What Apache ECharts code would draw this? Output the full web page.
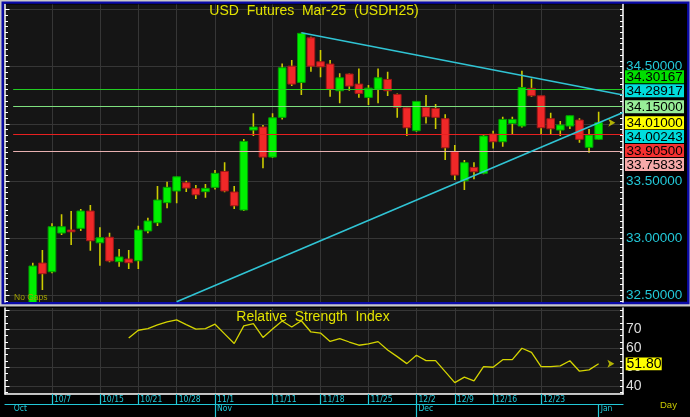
<!DOCTYPE html>
<html><head><meta charset="utf-8">
<script src="https://cdn.jsdelivr.net/npm/echarts@6/dist/echarts.min.js"></script>
<style>html,body{margin:0;padding:0;background:#c8c8c8}#c{width:690px;height:417px}</style>
</head><body><div id="c"></div><script>
// ---- data ----
const DATES = ['10/3','10/4','10/7','10/8','10/9','10/10','10/11','10/15','10/16','10/17',
 '10/18','10/21','10/22','10/23','10/24','10/28','10/29','10/30','10/31','11/1',
 '11/4','11/5','11/6','11/7','11/8','11/11','11/12','11/13','11/14','11/15',
 '11/18','11/19','11/20','11/21','11/22','11/25','11/26','11/27','11/28','11/29',
 '12/2','12/3','12/4','12/5','12/9','12/10','12/11','12/12','12/16','12/17',
 '12/18','12/19','12/20','12/23','12/24','12/26','12/27','12/30','12/31','1/2'];
const OPEN  = [32.43,32.785,32.709,33.047,33.073,33.088,33.239,32.962,33.01,32.797,
 32.82,32.805,33.065,33.137,33.312,33.414,33.486,33.434,33.408,33.446,
 33.585,33.405,33.248,33.946,33.972,33.71,34.057,34.504,34.362,34.751,
 34.542,34.522,34.289,34.435,34.347,34.231,34.301,34.388,34.257,34.14,
 33.94,34.144,34.135,34.045,33.757,33.503,33.62,33.568,33.911,33.844,
 34.004,33.981,34.31,34.245,34.045,33.946,33.981,34.033,33.795,33.865];
const CLOSE = [32.759,32.692,33.102,33.102,33.058,33.239,32.98,33.006,32.803,32.838,
 32.788,33.073,33.152,33.335,33.446,33.538,33.44,33.381,33.437,33.568,
 33.414,33.285,33.847,33.972,33.71,34.053,34.49,34.347,34.79,34.504,
 34.498,34.301,34.402,34.33,34.266,34.312,34.402,34.289,34.144,33.966,
 34.196,34.062,34.057,33.791,33.553,33.661,33.582,33.894,33.844,34.039,
 34.039,34.318,34.245,33.966,33.957,33.99,34.071,33.865,33.902,34.01];
const LOW   = [32.40,32.55,32.695,33.03,32.942,33.065,32.893,32.762,32.791,32.753,
 32.733,32.733,33.045,33.108,33.263,33.306,33.405,33.344,33.355,33.428,
 33.402,33.257,33.239,33.894,33.612,33.702,34.039,34.33,34.251,34.455,
 34.406,34.236,34.179,34.289,34.228,34.164,34.179,34.243,34.053,33.894,
 33.931,34.004,33.955,33.684,33.51,33.422,33.516,33.56,33.786,33.8,
 33.911,33.969,34.236,33.911,33.911,33.894,33.955,33.835,33.748,33.859];
const HIGH  = [32.788,32.899,33.132,33.21,33.239,33.257,33.291,33.097,33.05,32.907,
 32.899,33.111,33.181,33.457,33.495,33.54,33.503,33.466,33.475,33.597,
 33.664,33.457,33.867,34.092,33.99,34.092,34.528,34.557,34.795,34.76,
 34.644,34.557,34.441,34.44,34.484,34.339,34.484,34.455,34.266,34.14,
 34.2,34.251,34.173,34.083,33.815,33.684,33.664,33.902,33.94,34.062,
 34.062,34.463,34.397,34.245,34.097,34.024,34.071,34.048,33.955,34.106];
const RSI = [null,null,null,null,null,null,null,null,null,null,
 65.4,69.5,70.4,72.3,73.9,75.0,72.5,70.1,70.4,72.7,
 67.6,62.5,71.8,73.0,65.7,70.1,74.4,71.2,74.5,68.6,
 68.0,63.6,65.1,63.3,61.6,62.3,63.5,59.1,55.6,51.9,
 56.3,53.5,53.5,47.7,41.9,44.8,42.8,50.3,50.0,54.0,
 54.0,60.0,57.8,50.3,50.3,50.7,53.4,47.9,48.6,51.8];
const TICK_IDX = [2,7,11,15,19,25,30,35,40,44,48,53];
const MONTHS = ['Oct','Nov','Dec','Jan'];
const MONTH_IDX = [-2.2,19,40,59];
const MONTH_TICK_IDX = [19,40,59];
const PRICE_TICKS = [32.5,33,33.5,34,34.5];
const PRICE_GRID = [32.5,33,33.5,34,34.5,35];
const RSI_TICKS = [40,50,60,70];
const RSI_GRID = [40,50,60,70,80];
const LEVELS = [34.30167,34.15,33.905,33.75833];
const TREND_UP = [[28,34.795],[61.54,34.252]];
const TREND_LO = [[15,32.448],[61.54,34.10]];
const BOX_VALUES = [34.30167,34.28917,34.15,34.01,34.00243,33.905,33.75833];
const BOX_ANCHOR = 3;
const LAST_RSI = 51.80;
const TITLE = 'USD  Futures  Mar-25  (USDH25)';
const RSI_TITLE = 'Relative  Strength  Index';

// ---- style ----
const FONT = '"Liberation Sans", Arial, sans-serif';
const NARROW = '"Liberation Sans Narrow", "Arial Narrow", "DejaVu Sans Condensed", "Liberation Sans", sans-serif';
const CYAN = '#22c8d8';
const YELLOW = '#e2e200';
const GRIDC = '#363636';
const LEVEL_COLORS = ['#22cc22','#7ee07e','#e82020','#e8b0b0'];
const BOX_COLORS = ['#00e000','#00dcdc','#98ee98','#ffff00','#00dcdc','#f43030','#f6aaaa'];
const X_MIN = -2.899, X_MAX = 61.54;
const Y_MIN = 32.445, Y_MAX = 35.042;
const R_MIN = 35.89, R_MAX = 81.23;

const MAIN_MINOR = [];
for (let k = Math.ceil(Y_MIN / 0.05); k * 0.05 <= Y_MAX; k++) MAIN_MINOR.push(+(k * 0.05).toFixed(2));
const RSI_MINOR = [];
for (let k = Math.ceil(R_MIN * 3 / 10); k * 10 / 3 <= R_MAX; k++) RSI_MINOR.push(+(k * 10 / 3).toFixed(3));

const candleData = OPEN.map((o, i) => [i, o, CLOSE[i], LOW[i], HIGH[i]]);
const rsiData = [];
RSI.forEach((v, i) => { if (v != null) rsiData.push([i, v]); });

function renderCandle(params, api) {
  const x = api.value(0), o = api.value(1), c = api.value(2), l = api.value(3), h = api.value(4);
  const pO = api.coord([x, o]), pC = api.coord([x, c]);
  const pL = api.coord([x, l]), pH = api.coord([x, h]);
  const w = api.size([1, 0])[0] * 0.8;
  const up = c >= o;
  const top = Math.min(pO[1], pC[1]), bot = Math.max(pO[1], pC[1]);
  return { type: 'group', children: [
    { type: 'line', shape: { x1: pO[0], y1: pH[1], x2: pO[0], y2: pL[1] },
      style: { stroke: '#cccc00', lineWidth: 1.6 } },
    { type: 'rect', shape: { x: pO[0] - w / 2, y: top, width: w, height: Math.max(bot - top, 1.6) },
      style: { fill: up ? '#00f000' : '#f02828', stroke: up ? '#00a000' : '#a01818', lineWidth: 1 } }
  ]};
}

function boxLayout(api, values, anchor, step) {
  const ys = values.map(v => api.coord([0, v])[1]);
  const pos = ys.slice();
  for (let k = anchor - 1; k >= 0; k--) pos[k] = Math.min(ys[k], pos[k + 1] - step);
  for (let k = anchor + 1; k < ys.length; k++) pos[k] = Math.max(ys[k], pos[k - 1] + step);
  return pos;
}

function renderBox(params, api) {
  const pos = boxLayout(api, BOX_VALUES, BOX_ANCHOR, 13.9);
  const i = params.dataIndex;
  const cs = params.coordSys;
  const x0 = cs.x + cs.width + 2;
  const y = pos[i];
  return { type: 'group', children: [
    { type: 'rect', shape: { x: x0, y: y - 6.5, width: 59, height: 13 }, style: { fill: BOX_COLORS[i] } },
    { type: 'text', style: { x: x0 + 1.5, y: y + 0.5, text: BOX_VALUES[i].toFixed(5), fill: '#000',
      font: '13.5px ' + FONT, align: 'left', verticalAlign: 'middle' } }
  ]};
}

function renderRsiBox(params, api) {
  const cs = params.coordSys;
  const y = api.coord([0, api.value(1)])[1];
  const x0 = cs.x + cs.width + 2.7;
  return { type: 'group', children: [
    { type: 'rect', shape: { x: x0, y: y - 6.4, width: 36, height: 12.8 }, style: { fill: '#ffff00' } },
    { type: 'text', style: { x: x0 + 0.8, y: y + 0.5, text: api.value(1).toFixed(2), fill: '#000',
      font: '14px ' + FONT, align: 'left', verticalAlign: 'middle' } }
  ]};
}

const dateFmt = v => { const i = Math.round(v); return DATES[i] || ''; };
const monthFmt = v => { const k = MONTH_IDX.indexOf(v); return k >= 0 ? MONTHS[k] : ''; };

const yLine = { show: true, onZero: false, lineStyle: { color: '#ffffff', width: 1.5 } };

const chart = echarts.init(document.getElementById('c'), null, { renderer: 'canvas' });
chart.setOption({
  backgroundColor: '#c8c8c8',
  animation: false,
  graphic: [
    { type: 'rect', z: -100, shape: { x: 2.7, y: 2.6, width: 685.6, height: 300.4 },
      style: { fill: '#000', stroke: '#0a0aa8', lineWidth: 2.4 } },
    { type: 'rect', z: -100, shape: { x: 0, y: 306.5, width: 690, height: 111 }, style: { fill: '#000' } },
    { type: 'text', z: 50, x: 314, y: 4, style: { text: TITLE, fill: YELLOW, font: '14px ' + FONT, align: 'center', verticalAlign: 'top' } },
    { type: 'text', z: 50, x: 313, y: 310.5, style: { text: RSI_TITLE, fill: YELLOW, font: '14px ' + FONT, align: 'center', verticalAlign: 'top' } },
    { type: 'text', z: 50, x: 14, y: 297.5, style: { text: 'No Gaps', fill: '#a0a000', font: '8.5px ' + FONT, align: 'left', verticalAlign: 'middle' } },
    { type: 'text', z: 50, x: 660, y: 405, style: { text: 'Day', fill: '#c8c800', font: '9.5px ' + FONT, align: 'left', verticalAlign: 'middle' } }
  ],
  grid: [
    { left: 5, top: 4.5, right: 67, bottom: 115, show: true, backgroundColor: '#151515', borderWidth: 0 },
    { left: 5, top: 308, right: 67, bottom: 23, show: true, backgroundColor: '#151515', borderWidth: 0 }
  ],
  xAxis: [
    { gridIndex: 0, type: 'value', min: X_MIN, max: X_MAX,
      axisLine: { show: false, onZero: false }, axisLabel: { show: false },
      axisTick: { show: false, customValues: TICK_IDX },
      splitLine: { show: true, lineStyle: { color: GRIDC, width: 1 } } },
    { gridIndex: 1, type: 'value', min: X_MIN, max: X_MAX, position: 'bottom',
      axisLine: { show: true, onZero: false, lineStyle: { color: '#ffffff', width: 1.5 } },
      axisTick: { show: true, customValues: TICK_IDX, length: 10, lineStyle: { color: CYAN, width: 1.2 } },
      axisLabel: { show: true, customValues: TICK_IDX, formatter: dateFmt, color: CYAN, fontSize: 8.5,
        fontFamily: NARROW, align: 'left', verticalAlign: 'middle', margin: 5.5, padding: [0, 0, 0, 2] },
      splitLine: { show: true, lineStyle: { color: GRIDC, width: 1 } } },
    { gridIndex: 1, type: 'value', min: X_MIN, max: X_MAX, position: 'bottom', offset: 10,
      axisLine: { show: true, onZero: false, lineStyle: { color: CYAN, width: 1.2 } },
      axisTick: { show: true, customValues: MONTH_TICK_IDX, length: 13, lineStyle: { color: CYAN, width: 1.2 } },
      axisLabel: { show: true, customValues: MONTH_IDX, formatter: monthFmt, color: CYAN, fontSize: 8.5,
        fontFamily: NARROW, align: 'left', verticalAlign: 'middle', margin: 5, padding: [0, 0, 0, 2] },
      splitLine: { show: false } }
  ],
  yAxis: [
    { gridIndex: 0, type: 'value', position: 'right', min: Y_MIN, max: Y_MAX, axisLine: yLine,
      axisTick: { show: true, inside: true, length: 3, customValues: MAIN_MINOR, lineStyle: { color: '#ffffff' } },
      axisLabel: { show: true, customValues: PRICE_TICKS, formatter: v => v.toFixed(5), color: CYAN,
        fontSize: 13.5, fontFamily: FONT, margin: 3 },
      splitLine: { show: false } },
    { gridIndex: 0, type: 'value', position: 'left', min: Y_MIN, max: Y_MAX, axisLine: yLine,
      axisTick: { show: true, inside: true, length: 3, customValues: MAIN_MINOR, lineStyle: { color: '#ffffff' } },
      axisLabel: { show: false }, splitLine: { show: false } },
    { gridIndex: 0, type: 'value', position: 'left', min: Y_MIN, max: Y_MAX,
      axisLine: { show: false, onZero: false },
      axisTick: { show: true, inside: true, length: 4.5, customValues: PRICE_GRID, lineStyle: { color: '#ffffff' } },
      axisLabel: { show: false },
      splitLine: { show: true, lineStyle: { color: GRIDC, width: 1 } } },
    { gridIndex: 1, type: 'value', position: 'right', min: R_MIN, max: R_MAX, axisLine: yLine,
      axisTick: { show: true, inside: true, length: 3, customValues: RSI_MINOR, lineStyle: { color: '#ffffff' } },
      axisLabel: { show: true, customValues: RSI_TICKS, color: '#dcdcdc', fontSize: 14, fontFamily: FONT, margin: 3 },
      splitLine: { show: false } },
    { gridIndex: 1, type: 'value', position: 'left', min: R_MIN, max: R_MAX, axisLine: yLine,
      axisTick: { show: true, inside: true, length: 3, customValues: RSI_MINOR, lineStyle: { color: '#ffffff' } },
      axisLabel: { show: false }, splitLine: { show: false } },
    { gridIndex: 1, type: 'value', position: 'left', min: R_MIN, max: R_MAX,
      axisLine: { show: false, onZero: false },
      axisTick: { show: true, inside: true, length: 4.5, customValues: RSI_GRID, lineStyle: { color: '#ffffff' } },
      axisLabel: { show: false },
      splitLine: { show: true, lineStyle: { color: GRIDC, width: 1 } } }
  ],
  series: [
    { type: 'line', xAxisIndex: 0, yAxisIndex: 0, data: [], silent: true, z: 3,
      markLine: { silent: true, symbol: 'none', label: { show: false },
        data: LEVELS.map((v, i) => [
          { coord: [X_MIN + 0.85, v], lineStyle: { color: LEVEL_COLORS[i], width: 1.2, type: 'solid' } },
          { coord: [X_MAX, v] }]) } },
    { type: 'custom', xAxisIndex: 0, yAxisIndex: 0, data: candleData, renderItem: renderCandle,
      clip: true, z: 4, silent: true, encode: { x: 0, y: [1, 2, 3, 4] } },
    { type: 'line', xAxisIndex: 0, yAxisIndex: 0, data: TREND_UP, showSymbol: false, silent: true, z: 5,
      clip: true, lineStyle: { color: '#30c4d4', width: 1.6 } },
    { type: 'line', xAxisIndex: 0, yAxisIndex: 0, data: TREND_LO, showSymbol: false, silent: true, z: 5,
      clip: true, lineStyle: { color: '#30c4d4', width: 1.6 } },
    { type: 'scatter', xAxisIndex: 0, yAxisIndex: 0, data: [[X_MAX - 0.8, CLOSE[CLOSE.length - 1]]],
      symbol: 'arrow', symbolSize: [6, 7], symbolRotate: -90, itemStyle: { color: '#d8d800' }, silent: true, z: 6 },
    { type: 'custom', xAxisIndex: 0, yAxisIndex: 0, data: BOX_VALUES.map(v => [X_MAX, v]),
      renderItem: renderBox, clip: false, z: 20, silent: true },
    { type: 'line', xAxisIndex: 1, yAxisIndex: 3, data: rsiData, showSymbol: false, silent: true, z: 5,
      lineStyle: { color: '#d4d400', width: 1.3 } },
    { type: 'scatter', xAxisIndex: 1, yAxisIndex: 3, data: [[X_MAX - 0.9, LAST_RSI]],
      symbol: 'arrow', symbolSize: [6, 7], symbolRotate: -90, itemStyle: { color: '#d8d800' }, silent: true, z: 6 },
    { type: 'custom', xAxisIndex: 1, yAxisIndex: 3, data: [[X_MAX, LAST_RSI]],
      renderItem: renderRsiBox, clip: false, z: 20, silent: true }
  ]
});
</script></body></html>
